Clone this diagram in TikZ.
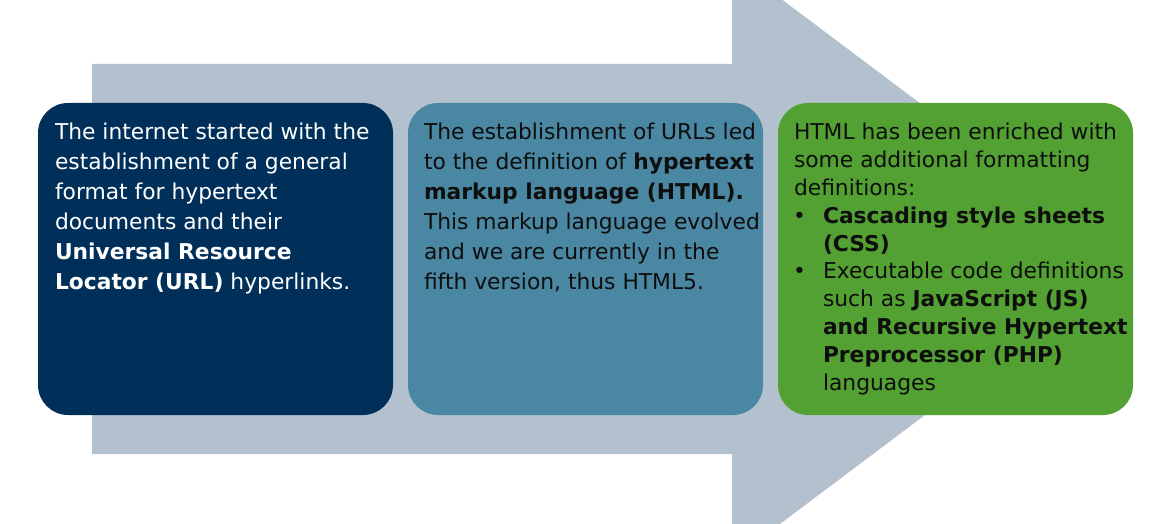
\documentclass[tikz,border=0pt]{standalone}
\usepackage{fontspec}
\setmainfont{DejaVu Sans}
\definecolor{arrowgrey}{HTML}{B3C1CF}
\definecolor{navybox}{HTML}{00305A}
\definecolor{tealbox}{HTML}{4A87A2}
\definecolor{greenbox}{HTML}{53A133}
\definecolor{inktext}{HTML}{0E0E0E}
\begin{document}
\begin{tikzpicture}[x=1pt,y=1pt,
  card/.style={rounded corners=30pt, minimum width=355pt, minimum height=312pt, inner sep=0pt, draw=none},
  cardtext/.style={anchor=north west, inner sep=0pt, align=left, font=\fontsize{21.8}{30}\selectfont},
]
\useasboundingbox (0,0) rectangle (1169,523);
\begin{scope}
\clip (0,0) rectangle (1169,523);
\fill[arrowgrey] (92,459) -- (732,459) -- (732,561) -- (1130,262) -- (732,-37) -- (732,69) -- (92,69) -- cycle;
\end{scope}
\node[card, fill=navybox] (box1) at (215.5,264) {};
\node[card, fill=tealbox] (box2) at (585.5,264) {};
\node[card, fill=greenbox] (box3) at (955.5,264) {};
\node[cardtext, text=white] (t1) at ([xshift=17pt,yshift=-20.3pt]box1.north west)
 {The internet started with the\\
  establishment of a general\\
  format for hypertext\\
  documents and their\\
  \textbf{Universal Resource}\\
  \textbf{Locator (URL)} hyperlinks.};
\node[cardtext, text=inktext] (t2) at ([xshift=16pt,yshift=-20.3pt]box2.north west)
 {The establishment of URLs led\\
  to the definition of \textbf{hypertext}\\
  \textbf{markup language (HTML).}\\
  This markup language evolved\\
  and we are currently in the\\
  fifth version, thus HTML5.};
\node[cardtext, text=inktext, font=\fontsize{21.8}{27.8}\selectfont] (t3) at ([xshift=16pt,yshift=-20.3pt]box3.north west)
 {HTML has been enriched with\\
  some additional formatting\\
  definitions:\\
  \makebox[29pt][l]{\hspace{-1pt}•}\textbf{Cascading style sheets}\\
  \hspace*{29pt}\textbf{(CSS)}\\
  \makebox[29pt][l]{\hspace{-1pt}•}Executable code definitions\\
  \hspace*{29pt}such as \textbf{JavaScript (JS)}\\
  \hspace*{29pt}\textbf{and Recursive Hypertext}\\
  \hspace*{29pt}\textbf{Preprocessor (PHP)}\\
  \hspace*{29pt}languages};
\end{tikzpicture}
\end{document}
